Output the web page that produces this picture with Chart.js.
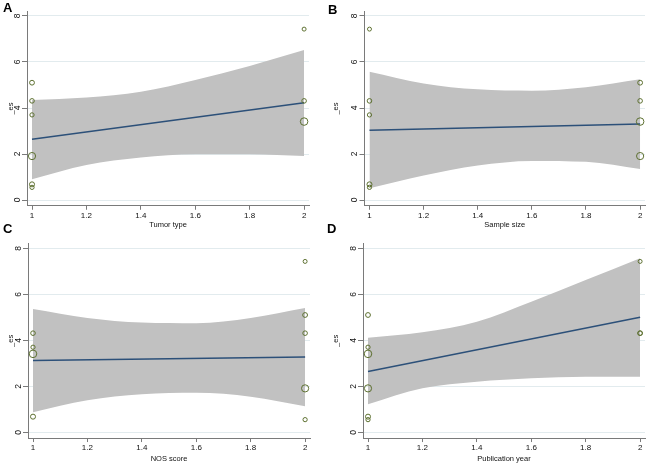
<!DOCTYPE html>
<html><head><meta charset="utf-8">
<script src="https://cdn.jsdelivr.net/npm/chart.js@4.4.1/dist/chart.umd.min.js"></script>
<style>
html,body{margin:0;padding:0;background:#fff;width:650px;height:467px;overflow:hidden;position:relative;font-family:"Liberation Sans",Arial,sans-serif}
canvas{position:absolute;display:block}
.letter{position:absolute;font-weight:bold;font-size:13px;line-height:13px;color:#000}
</style></head><body>
<canvas id="cA" width="325" height="234" style="left:0;top:0"></canvas>
<canvas id="cB" width="325" height="234" style="left:325px;top:0"></canvas>
<canvas id="cC" width="325" height="234" style="left:0;top:233px"></canvas>
<canvas id="cD" width="325" height="234" style="left:325px;top:233px"></canvas>
<div class="letter" style="left:3px;top:1px">A</div>
<div class="letter" style="left:328px;top:3px">B</div>
<div class="letter" style="left:3px;top:222px">C</div>
<div class="letter" style="left:327px;top:222px">D</div>
<script>
// ---- data ----
const studyES     = [7.43, 5.10, 4.31, 4.31, 3.70, 3.41, 1.91, 0.68, 0.55];
const studyWeight = [0.75, 1.10, 1.00, 1.00, 0.85, 2.70, 2.45, 1.20, 0.85];
const tumorType   = [2, 1, 1, 2, 1, 2, 1, 1, 1];
const sampleSize  = [1, 2, 1, 2, 1, 2, 2, 1, 1];
const nosScore    = [2, 2, 1, 2, 1, 1, 2, 1, 2];
const pubYear     = [2, 1, 2, 2, 1, 1, 1, 1, 1];

const fitX  = [1, 2];
const bandX = [1, 1.2, 1.4, 1.6, 1.8, 2];

const fitA   = [2.64, 4.23];
const upperA = [4.35, 4.46, 4.71, 5.22, 5.83, 6.52];
const lowerA = [0.90, 1.52, 1.85, 1.99, 1.99, 1.91];

const fitB   = [3.03, 3.30];
const upperB = [5.58, 5.07, 4.81, 4.75, 4.90, 5.25];
const lowerB = [0.51, 1.06, 1.50, 1.70, 1.66, 1.35];

const fitC   = [3.12, 3.27];
const upperC = [5.36, 4.97, 4.77, 4.74, 4.97, 5.40];
const lowerC = [0.87, 1.39, 1.65, 1.72, 1.55, 1.13];

const fitD   = [2.64, 5.00];
const upperD = [4.11, 4.35, 4.81, 5.68, 6.62, 7.57];
const lowerD = [1.22, 1.91, 2.20, 2.35, 2.42, 2.42];

const xTicks = [1, 1.2, 1.4, 1.6, 1.8, 2];
const yTicks = [0, 2, 4, 6, 8];
const yTitle = '_es';
const xTitles = ['Tumor type', 'Sample size', 'NOS score', 'Publication year'];

// ---- drawing ----
const FONT = '"Liberation Sans", Arial, sans-serif';
function makeChart(id, xVals, fit, upper, lower, xTitle, geo) {
  new Chart(document.getElementById(id), {
    type: 'line',
    data: {
      datasets: [
        { type: 'bubble', order: 0,
          data: studyES.map((y, i) => ({ x: xVals[i], y: y, r: 2.3 * Math.sqrt(studyWeight[i]) })),
          backgroundColor: 'rgba(255,255,255,0)', borderColor: '#5d7030', borderWidth: 1 },
        { type: 'line', order: 1,
          data: fitX.map((x, i) => ({ x: x, y: fit[i] })),
          borderColor: '#2c5079', borderWidth: 1.5, pointRadius: 0, fill: false },
        { type: 'line', order: 3,
          data: bandX.map((x, i) => ({ x: x, y: upper[i] })),
          borderColor: 'rgba(0,0,0,0)', borderWidth: 0, pointRadius: 0, fill: false,
          cubicInterpolationMode: 'monotone' },
        { type: 'line', order: 2,
          data: bandX.map((x, i) => ({ x: x, y: lower[i] })),
          borderColor: 'rgba(0,0,0,0)', borderWidth: 0, pointRadius: 0,
          fill: '-1', backgroundColor: '#c1c1c1',
          cubicInterpolationMode: 'monotone' }
      ]
    },
    options: {
      responsive: false, animation: false, events: [],
      layout: { padding: { top: geo.top, right: geo.right, left: 0, bottom: 0 } },
      plugins: { legend: { display: false }, tooltip: { enabled: false } },
      scales: {
        x: {
          type: 'linear', min: 0.9816, max: 2.018,
          afterBuildTicks: s => { s.ticks = xTicks.map(v => ({ value: v })); },
          afterFit: s => { s.height = geo.bottomH; },
          ticks: { font: { family: FONT, size: 8 }, color: '#111', padding: 1, maxRotation: 0,
                   callback: v => String(v) },
          grid: { drawOnChartArea: false, drawTicks: true, tickLength: 4, tickColor: '#7a7a7a' },
          border: { display: true, color: '#7a7a7a', width: 1 },
          title: { display: true, text: xTitle, color: '#111', font: { family: FONT, size: 7.5 },
                   padding: { top: 0, bottom: geo.titlePad } }
        },
        y: {
          type: 'linear', min: -0.25, max: 8.2,
          afterBuildTicks: s => { s.ticks = yTicks.map(v => ({ value: v })); },
          afterFit: s => { s.width = geo.left; },
          ticks: { font: { family: FONT, size: 8.5 }, color: '#111', padding: 2,
                   minRotation: 90, maxRotation: 90, crossAlign: 'center',
                   callback: v => String(v) },
          grid: { color: '#e2ebee', lineWidth: 1, drawTicks: true, tickLength: 5, tickColor: '#7a7a7a' },
          border: { display: true, color: '#7a7a7a', width: 1 },
          title: { display: true, text: yTitle, color: '#111', font: { family: FONT, size: 7.5 },
                   padding: { top: 6, bottom: 0 } }
        }
      }
    }
  });
}

makeChart('cA', tumorType,  fitA, upperA, lowerA, xTitles[0], { left: 27,   right: 16,  top: 11.4, bottomH: 28.25, titlePad: 4.5 });
makeChart('cB', sampleSize, fitB, upperB, lowerB, xTitles[1], { left: 39.5, right: 3.5, top: 11.4, bottomH: 28.25, titlePad: 4.5 });
makeChart('cC', nosScore,   fitC, upperC, lowerC, xTitles[2], { left: 28,   right: 15,  top: 10.7, bottomH: 28.95, titlePad: 3.5 });
makeChart('cD', pubYear,    fitD, upperD, lowerD, xTitles[3], { left: 38,   right: 5,   top: 10.7, bottomH: 28.95, titlePad: 3.5 });
</script>
</body></html>
